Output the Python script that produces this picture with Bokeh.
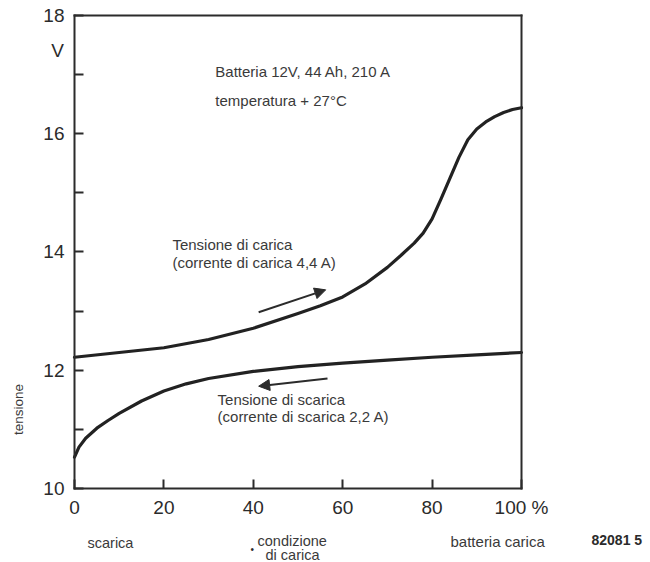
import math
from bokeh.plotting import figure
from bokeh.models import Range1d, FixedTicker, Label, Arrow, NormalHead, LinearAxis
from bokeh.embed import file_html
from bokeh.resources import INLINE

# ---- data ----
charge_pct = [0, 10, 20, 30, 40, 50, 55, 60, 65, 70, 73, 76, 78, 80, 82, 84, 86, 88, 90,
              92, 94, 96, 98, 100]
charge_v = [12.22, 12.3, 12.38, 12.52, 12.71, 12.96, 13.09, 13.24, 13.46, 13.74, 13.94, 14.15,
            14.32, 14.56, 14.9, 15.25, 15.6, 15.9, 16.08, 16.2, 16.29, 16.36, 16.41, 16.44]

discharge_pct = [0, 1, 2.5, 5, 7.5, 10, 15, 20, 25, 30, 40, 50, 60, 70, 80, 90, 100]
discharge_v = [10.53, 10.7, 10.85, 11.02, 11.15, 11.27, 11.48, 11.65, 11.77, 11.86, 11.98,
               12.06, 12.12, 12.17, 12.22, 12.26, 12.3]

x_ticks = [0, 20, 40, 60, 80, 100]
x_tick_labels = {100: "100 %"}
y_ticks = [10, 12, 14, 16, 18]
y_minor = [11, 13, 15, 17]
X_MIN, X_MAX = 0, 100
Y_MIN, Y_MAX = 10, 18

FONT = "Liberation Sans"
INK = "#2b2b2b"
TXT = "#3a3a3a"

# the frame fills the whole canvas; the chart box is drawn by axes at fixed locations
p = figure(width=650, height=562, output_backend="svg", toolbar_location=None,
           x_range=Range1d(-16.555, 128.859), y_range=Range1d(8.7484, 18.2537))
p.min_border_left = 0
p.min_border_right = 0
p.min_border_top = 0
p.min_border_bottom = 0
p.background_fill_color = "white"
p.border_fill_color = "white"
p.grid.visible = False
p.outline_line_color = None

# x axis
xa = p.xaxis[0]
xa.fixed_location = Y_MIN
xa.bounds = (X_MIN, X_MAX)
xa.ticker = FixedTicker(ticks=x_ticks)
xa.major_label_overrides = x_tick_labels
xa.major_tick_in = 9
xa.major_tick_out = 0
xa.minor_tick_in = 0
xa.minor_tick_out = 0
xa.axis_line_width = 2
xa.axis_line_color = INK
xa.axis_line_cap = "square"
xa.major_tick_line_width = 2
xa.major_tick_line_color = INK
xa.major_label_text_font = FONT
xa.major_label_text_font_size = "19px"
xa.major_label_text_color = INK
xa.major_label_standoff = 9

# y axis
ya = p.yaxis[0]
ya.fixed_location = X_MIN
ya.bounds = (Y_MIN, Y_MAX)
ya.ticker = FixedTicker(ticks=y_ticks, minor_ticks=y_minor)
ya.major_tick_in = 9
ya.major_tick_out = 0
ya.minor_tick_in = 9
ya.minor_tick_out = 0
ya.axis_line_width = 2
ya.axis_line_color = INK
ya.axis_line_cap = "square"
ya.major_tick_line_width = 2
ya.minor_tick_line_width = 2
ya.major_tick_line_color = INK
ya.minor_tick_line_color = INK
ya.major_label_text_font = FONT
ya.major_label_text_font_size = "19px"
ya.major_label_text_color = INK
ya.major_label_standoff = 10


def border_axis(loc, bounds):
    ax = LinearAxis(fixed_location=loc, bounds=bounds, ticker=FixedTicker(ticks=[]),
                    major_tick_in=0, major_tick_out=0, minor_tick_in=0, minor_tick_out=0,
                    major_label_text_font_size="0px", axis_line_width=2,
                    axis_line_color=INK, axis_line_cap="square")
    return ax


p.add_layout(border_axis(Y_MAX, (X_MIN, X_MAX)), "above")
p.add_layout(border_axis(X_MAX, (Y_MIN, Y_MAX)), "right")

# curves
p.line(charge_pct, charge_v, line_width=3.2, line_color="#222222", line_join="round", line_cap="round")
p.line(discharge_pct, discharge_v, line_width=3.2, line_color="#222222", line_join="round", line_cap="round")

# arrows
p.add_layout(Arrow(x_start=41.2, y_start=12.98, x_end=56.2, y_end=13.36,
                   line_width=2, line_color=INK,
                   end=NormalHead(size=11, fill_color=INK, line_color=INK)))
p.add_layout(Arrow(x_start=56.6, y_start=11.86, x_end=41.2, y_end=11.73,
                   line_width=2, line_color=INK,
                   end=NormalHead(size=11, fill_color=INK, line_color=INK)))


def lab(x, y, text, size="15px", align="left", angle=0, bold=False, color=TXT):
    p.add_layout(Label(x=x, y=y, text=text, text_font=FONT, text_font_size=size,
                       text_color=color, text_align=align, text_baseline="middle",
                       angle=angle, text_font_style="bold" if bold else "normal"))


lab(31.5, 17.05, "Batteria 12V, 44 Ah, 210 A")
lab(31.5, 16.56, "temperatura + 27°C")
lab(21.9, 14.13, "Tensione di carica")
lab(21.9, 13.83, "(corrente di carica 4,4 A)")
lab(32.0, 11.5, "Tensione di scarica")
lab(32.0, 11.21, "(corrente di scarica 2,2 A)")

lab(-3.8, 17.408, "V", size="19px", align="center", color=INK)
lab(-12.53, 11.336, "tensione", size="13.5px", align="center", angle=math.pi / 2)
lab(2.91, 9.07, "scarica", size="14.5px")
lab(40.94, 9.104, "condizione", size="14.5px")
lab(42.73, 8.867, "di carica", size="14.5px")
lab(39.4, 8.96, "•", size="10px", color=INK)
lab(84.12, 9.104, "batteria carica", size="15px")
lab(115.66, 9.121, "82081 5", size="14px", bold=True, color=INK)

open("out.html", "w").write(file_html(p, INLINE))
